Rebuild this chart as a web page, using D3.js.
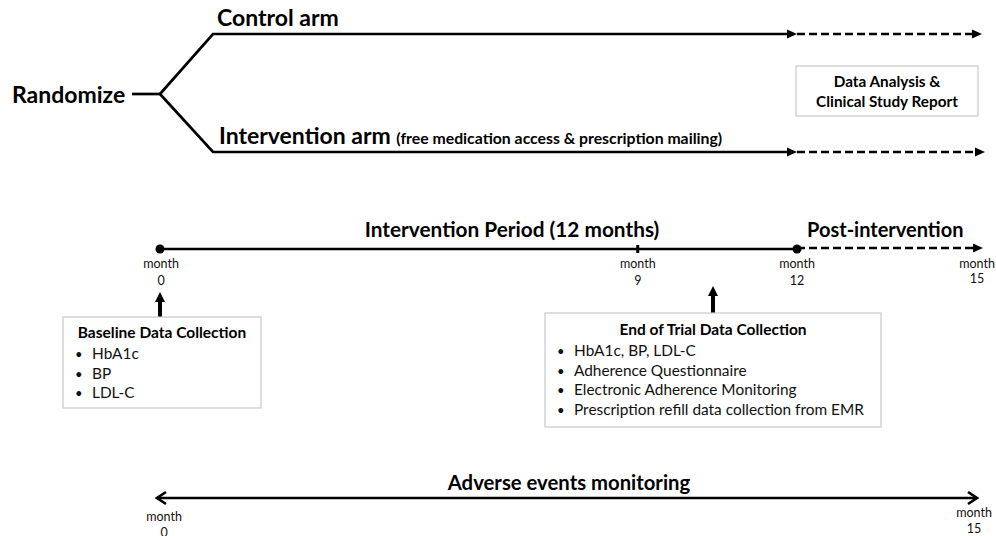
<!DOCTYPE html>
<html>
<head>
<meta charset="utf-8">
<script src="https://cdn.jsdelivr.net/npm/d3@7"></script>
<style>
  html, body { margin: 0; padding: 0; background: #fff; }
  svg { display: block; font-family: Lato, "Open Sans", sans-serif; }
</style>
</head>
<body>
<div id="chart"></div>
<script>
// ---- data ----
const arms = ["Control arm", "Intervention arm"];
const armNote = "(free medication access & prescription mailing)";
const reportLines = ["Data Analysis &", "Clinical Study Report"];
const timelineMonths = [0, 9, 12, 15];
const phases = ["Intervention Period (12 months)", "Post-intervention"];
const baselineTitle = "Baseline Data Collection";
const baselineItems = ["HbA1c", "BP", "LDL-C"];
const endTitle = "End of Trial Data Collection";
const endItems = [
    "HbA1c, BP, LDL-C",
    "Adherence Questionnaire",
    "Electronic Adherence Monitoring",
    "Prescription refill data collection from EMR"
];
const monitorLabel = "Adverse events monitoring";
const monitorMonths = [0, 15];

const width = 996, height = 536;
const lw = 2.7;

const svg = d3.select("#chart").append("svg")
    .attr("width", width)
    .attr("height", height);

// month -> x
const x = d3.scaleLinear().domain([0, 12, 15]).range([160, 797, 977]);

function triangleRight(g, tipX, y, len, half) {
    g.append("path")
        .attr("d", `M${tipX},${y} L${tipX - len},${y - half} L${tipX - len},${y + half} Z`)
        .attr("fill", "#000");
}

// ---- randomization ----
const armsG = svg.append("g");
armsG.append("text")
    .attr("x", 12).attr("y", 103)
    .attr("font-size", 23).attr("font-weight", 700)
    .text("Randomize");

const forkX = 160, forkY = 94, armStart = 213;
const armY = d3.scaleOrdinal().domain(arms).range([34, 152]);

armsG.append("line")
    .attr("x1", 132).attr("x2", forkX)
    .attr("y1", forkY).attr("y2", forkY)
    .attr("stroke", "#000").attr("stroke-width", lw);

arms.forEach(function(a, i) {
    const y = armY(a);
    armsG.append("path")
        .attr("d", `M${forkX},${forkY} L${armStart},${y} L${x(12) - 8},${y}`)
        .attr("fill", "none").attr("stroke", "#000")
        .attr("stroke-width", lw).attr("stroke-linejoin", "miter");
    triangleRight(armsG, x(12), y, 10, 4.5);
    armsG.append("line")
        .attr("x1", x(12)).attr("x2", x(15) - 2)
        .attr("y1", y).attr("y2", y)
        .attr("stroke", "#000").attr("stroke-width", lw)
        .attr("stroke-dasharray", "8,4");
    triangleRight(armsG, x(15) + 5 + i * 3, y, 10, 4.5);
});

armsG.append("text")
    .attr("x", 217).attr("y", 26)
    .attr("font-size", 23).attr("font-weight", 700)
    .text(arms[0]);

const it = armsG.append("text")
    .attr("x", 219).attr("y", 144)
    .attr("font-weight", 700);
it.append("tspan").attr("font-size", 23).text(arms[1] + " ");
it.append("tspan").attr("font-size", 15.8).text(armNote);

// report box
armsG.append("rect")
    .attr("x", 796).attr("y", 66).attr("width", 182).attr("height", 50)
    .attr("fill", "#fff").attr("stroke", "#c9c9c9").attr("stroke-width", 1.2);
armsG.selectAll(".rep").data(reportLines).enter().append("text")
    .attr("x", 887).attr("y", (d, i) => 87 + i * 20)
    .attr("text-anchor", "middle")
    .attr("font-size", 15.3).attr("font-weight", 700)
    .text(d => d);

// ---- timeline ----
const tl = svg.append("g");
const tY = 249;
tl.append("line")
    .attr("x1", x(0)).attr("x2", x(12))
    .attr("y1", tY).attr("y2", tY)
    .attr("stroke", "#000").attr("stroke-width", lw);
tl.append("line")
    .attr("x1", x(12)).attr("x2", x(15))
    .attr("y1", tY - 1).attr("y2", tY - 1)
    .attr("stroke", "#000").attr("stroke-width", lw)
    .attr("stroke-dasharray", "8,4");
triangleRight(tl, x(15) + 6, tY - 1, 10, 4.5);
[0, 12].forEach(m => tl.append("circle")
    .attr("cx", x(m)).attr("cy", tY).attr("r", 4.5).attr("fill", "#000"));
tl.append("rect")
    .attr("x", x(9) - 1.5).attr("y", tY - 4).attr("width", 3).attr("height", 8)
    .attr("fill", "#000");

tl.append("text")
    .attr("x", 512).attr("y", 237).attr("text-anchor", "middle")
    .attr("font-size", 20.8).attr("font-weight", 700)
    .text(phases[0]);
tl.append("text")
    .attr("x", 807).attr("y", 237)
    .attr("font-size", 20).attr("font-weight", 700)
    .text(phases[1]);

const ml = tl.selectAll(".ml").data(timelineMonths).enter().append("g")
    .attr("transform", d => `translate(${x(d) + (d === 0 ? 1 : 0)},0)`);
ml.append("text").attr("y", 268).attr("text-anchor", "middle")
    .attr("font-size", 12.5).attr("fill", "#111").text("month");
ml.append("text").attr("y", d => d === 15 ? 283 : 285).attr("text-anchor", "middle")
    .attr("font-size", 12.5).attr("fill", "#111").text(d => d);

// ---- data collection boxes ----
function upArrow(g, ax, tipY, baseY) {
    g.append("rect")
        .attr("x", ax - 2).attr("y", tipY + 8).attr("width", 4).attr("height", baseY - tipY - 8)
        .attr("fill", "#000");
    g.append("path")
        .attr("d", `M${ax},${tipY} L${ax - 5},${tipY + 10} L${ax + 5},${tipY + 10} Z`)
        .attr("fill", "#000");
}

function infoBox(g, bx, by, bw, bh, title, items, titleY, firstY, step) {
    g.append("rect")
        .attr("x", bx).attr("y", by).attr("width", bw).attr("height", bh)
        .attr("fill", "#fff").attr("stroke", "#c9c9c9").attr("stroke-width", 1.2);
    g.append("text")
        .attr("x", bx + bw / 2).attr("y", titleY).attr("text-anchor", "middle")
        .attr("font-size", 15.5).attr("font-weight", 700)
        .text(title);
    const row = g.selectAll(null).data(items).enter().append("g")
        .attr("transform", (d, i) => `translate(${bx},${firstY + i * step})`);
    row.append("text").attr("x", 12).attr("font-size", 13).attr("fill", "#111").text("\u2022");
    row.append("text").attr("x", 29).attr("font-size", 15.4).attr("fill", "#111").text(d => d);
}

const boxes = svg.append("g");
upArrow(boxes, x(0), 292, 318);
infoBox(boxes, 63, 317, 198, 91, baselineTitle, baselineItems, 338, 359, 19.7);
upArrow(boxes, 713, 286, 313);
infoBox(boxes, 545, 313, 336, 114, endTitle, endItems, 335, 356, 19.7);

// ---- adverse events ----
const ae = svg.append("g");
const aY = 498;
const aL = x(0) - 3, aR = x(15);
ae.append("line")
    .attr("x1", aL + 1).attr("x2", aR - 1)
    .attr("y1", aY).attr("y2", aY)
    .attr("stroke", "#000").attr("stroke-width", lw);
ae.append("path")
    .attr("d", `M${aL + 9},${aY - 6} L${aL},${aY} L${aL + 9},${aY + 6}`)
    .attr("fill", "none").attr("stroke", "#000").attr("stroke-width", lw);
ae.append("path")
    .attr("d", `M${aR - 9},${aY - 6} L${aR},${aY} L${aR - 9},${aY + 6}`)
    .attr("fill", "none").attr("stroke", "#000").attr("stroke-width", lw);
ae.append("text")
    .attr("x", 569).attr("y", 490).attr("text-anchor", "middle")
    .attr("font-size", 20.3).attr("font-weight", 700)
    .text(monitorLabel);

const am = ae.selectAll(".am").data(monitorMonths).enter().append("g")
    .attr("transform", d => `translate(${d === 0 ? x(0) + 4 : x(15) - 3},0)`);
am.append("text").attr("y", d => d === 0 ? 521 : 517).attr("text-anchor", "middle")
    .attr("font-size", 12.5).attr("fill", "#111").text("month");
am.append("text").attr("y", d => d === 0 ? 537 : 533).attr("text-anchor", "middle")
    .attr("font-size", 12.5).attr("fill", "#111").text(d => d);
</script>
</body>
</html>
